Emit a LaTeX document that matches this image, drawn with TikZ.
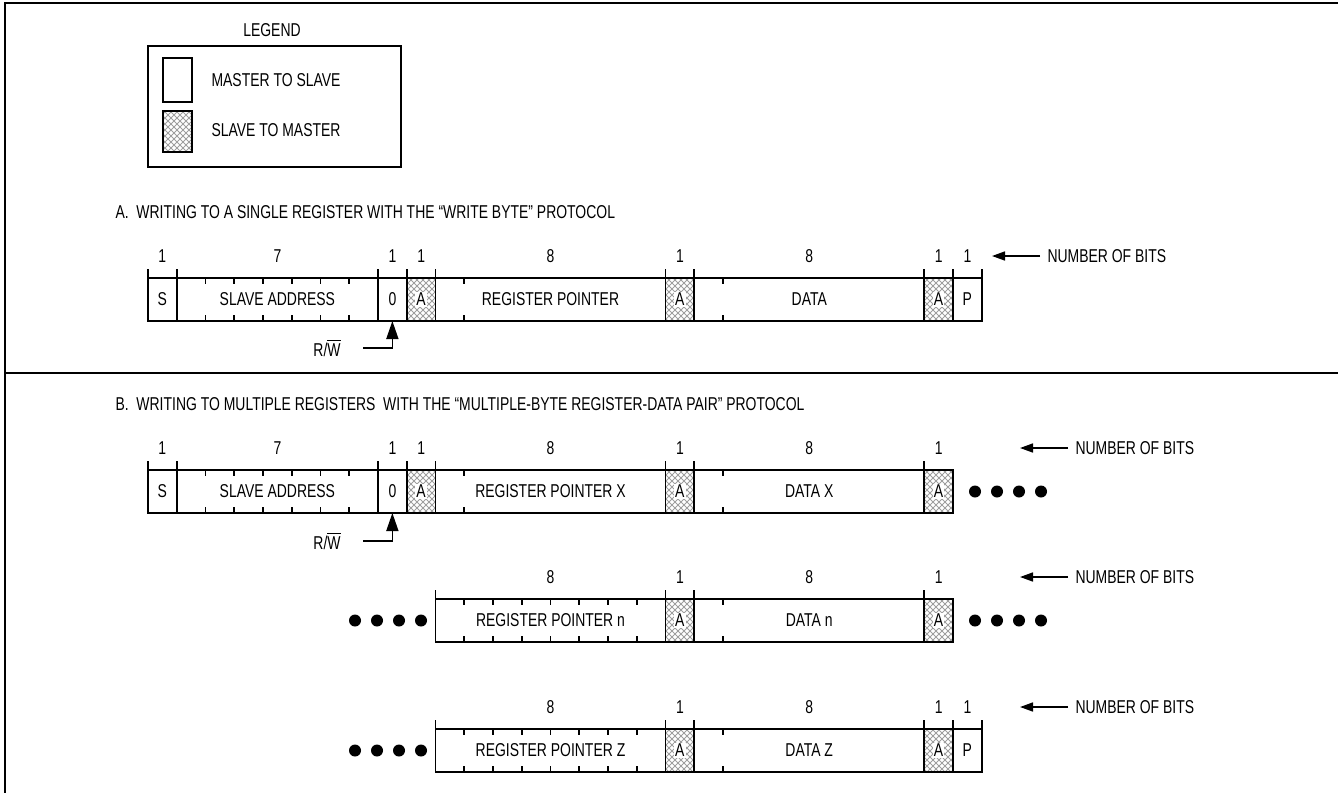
\documentclass[tikz,border=0pt]{standalone}
\usepackage{fontspec}
\setmainfont{Liberation Sans}[FakeStretch=0.75]
\usetikzlibrary{positioning,patterns,arrows.meta}

\begin{document}
\begin{tikzpicture}[x=0.5pt,y=-0.5pt,font=\fontsize{9.3}{11}\selectfont,line width=0.9pt,
  bitbox/.style={draw,minimum width=#1*14.375pt,minimum height=21.5pt,inner sep=0pt,outer sep=0pt},
  slave/.style={preaction={pattern=north east lines,pattern color=black!38},pattern=north west lines,pattern color=black!38},
  acktext/.style={fill=white,inner sep=0.6pt},
  bitnum/.style={inner sep=1pt},
  tick/.style={line width=0.8pt},
  bitsarrow/.style={-{Triangle[length=6.5pt,width=4.5pt]},line width=0.8pt},
  rwarrow/.style={-{Triangle[length=9pt,width=6pt]},line width=0.8pt},
  dot/.style={circle,fill=black,inner sep=0pt,minimum size=6pt}]
\useasboundingbox (0,0) rectangle (1338,793);
% frame
\draw (1338,3) -- (5,3) -- (5,793);
\draw (5,373) -- (1338,373);
% legend
\node (legend) at (272,30) {LEGEND};
\draw (148,46) rectangle (401,167);
\draw (163,58) rectangle (192,102);
\draw[slave] (163,111) rectangle (192,152);
\node[anchor=west] (msText) at (204,80) {MASTER TO SLAVE};
\node[anchor=west] (smText) at (204,130) {SLAVE TO MASTER};
% A: write byte
\node[anchor=west] (titleA) at (108,212) {A.\ \ WRITING TO A SINGLE REGISTER WITH THE “WRITE BYTE” PROTOCOL};
\node[bitbox=1,anchor=north west] (aS) at (148,278) {S};
\node[bitbox=7,right=0pt of aS] (aAddr) {SLAVE ADDRESS};
\node[bitbox=1,right=0pt of aAddr] (aRw) {0};
\node[bitbox=1,slave,right=0pt of aRw] (aAck1) {};
\node[acktext] (aAck1t) at (aAck1) {A};
\node[bitbox=8,right=0pt of aAck1] (aReg) {REGISTER POINTER};
\node[bitbox=1,slave,right=0pt of aReg] (aAck2) {};
\node[acktext] (aAck2t) at (aAck2) {A};
\node[bitbox=8,right=0pt of aAck2] (aData) {DATA};
\node[bitbox=1,slave,right=0pt of aData] (aAck3) {};
\node[acktext] (aAck3t) at (aAck3) {A};
\node[bitbox=1,right=0pt of aAck3] (aP) {P};
\foreach \k in {2,...,7,11,...,17,20,...,26}
  \draw[tick] (148+28.75*\k,278) -- ++(0,6) (148+28.75*\k,321) -- ++(0,-6);
\foreach \k in {0,1,8,9,10,18,19,27,28,29}
  \draw (148+28.75*\k,278) -- ++(0,-9);
\foreach \f/\n in {aS/1,aAddr/7,aRw/1,aAck1/1,aReg/8,aAck2/1,aData/8,aAck3/1,aP/1}
  \node[bitnum] (\f-n) at ([yshift=11pt]\f.north) {\n};
\node[anchor=west] (aBits) at (1040,256) {NUMBER OF BITS};
\coordinate (aBitsTip) at (992,256);
\draw[bitsarrow] (aBits.west) -- (aBitsTip);
\node (aRwText) at (327,348) {R/$\overline{\mbox{W}}$};
\coordinate (aRwStart) at (363,348);
\draw[rwarrow] (aRwStart) -| (aRw.south);
% B: register-data pairs
\node[anchor=west] (titleB) at (108,404) {B.\ \ WRITING TO MULTIPLE REGISTERS \ WITH THE “MULTIPLE-BYTE REGISTER-DATA PAIR” PROTOCOL};
\node[bitbox=1,anchor=north west] (bS) at (148,470) {S};
\node[bitbox=7,right=0pt of bS] (bAddr) {SLAVE ADDRESS};
\node[bitbox=1,right=0pt of bAddr] (bRw) {0};
\node[bitbox=1,slave,right=0pt of bRw] (bAck1) {};
\node[acktext] (bAck1t) at (bAck1) {A};
\node[bitbox=8,right=0pt of bAck1] (bReg) {REGISTER POINTER X};
\node[bitbox=1,slave,right=0pt of bReg] (bAck2) {};
\node[acktext] (bAck2t) at (bAck2) {A};
\node[bitbox=8,right=0pt of bAck2] (bData) {DATA X};
\node[bitbox=1,slave,right=0pt of bData] (bAck3) {};
\node[acktext] (bAck3t) at (bAck3) {A};
\foreach \k in {2,...,7,11,...,17,20,...,26}
  \draw[tick] (148+28.75*\k,470) -- ++(0,6) (148+28.75*\k,513) -- ++(0,-6);
\foreach \k in {0,1,8,9,10,18,19,27}
  \draw (148+28.75*\k,470) -- ++(0,-9);
\foreach \f/\n in {bS/1,bAddr/7,bRw/1,bAck1/1,bReg/8,bAck2/1,bData/8,bAck3/1}
  \node[bitnum] (\f-n) at ([yshift=11pt]\f.north) {\n};
\foreach \i in {0,...,3}
  \node[dot] (bDot\i) at (975+22*\i,491.5) {};
\node[anchor=west] (bBits) at (1068,448) {NUMBER OF BITS};
\coordinate (bBitsTip) at (1020,448);
\draw[bitsarrow] (bBits.west) -- (bBitsTip);
\node (bRwText) at (327,541) {R/$\overline{\mbox{W}}$};
\coordinate (bRwStart) at (363,541);
\draw[rwarrow] (bRwStart) -| (bRw.south);
% B: pair n
\node[bitbox=8,anchor=north west] (cReg) at (435.5,599) {REGISTER POINTER n};
\node[bitbox=1,slave,right=0pt of cReg] (cAck1) {};
\node[acktext] (cAck1t) at (cAck1) {A};
\node[bitbox=8,right=0pt of cAck1] (cData) {DATA n};
\node[bitbox=1,slave,right=0pt of cData] (cAck2) {};
\node[acktext] (cAck2t) at (cAck2) {A};
\foreach \k in {11,...,17,20,...,26}
  \draw[tick] (148+28.75*\k,599) -- ++(0,6) (148+28.75*\k,642) -- ++(0,-6);
\foreach \k in {10,18,19,27}
  \draw (148+28.75*\k,599) -- ++(0,-9);
\foreach \f/\n in {cReg/8,cAck1/1,cData/8,cAck2/1}
  \node[bitnum] (\f-n) at ([yshift=11pt]\f.north) {\n};
\foreach \i in {0,...,3} {
  \node[dot] (cDotL\i) at (355+22*\i,620.5) {};
  \node[dot] (cDotR\i) at (975+22*\i,620.5) {};
}
\node[anchor=west] (cBits) at (1068,577) {NUMBER OF BITS};
\coordinate (cBitsTip) at (1020,577);
\draw[bitsarrow] (cBits.west) -- (cBitsTip);
% B: last pair
\node[bitbox=8,anchor=north west] (dReg) at (435.5,729) {REGISTER POINTER Z};
\node[bitbox=1,slave,right=0pt of dReg] (dAck1) {};
\node[acktext] (dAck1t) at (dAck1) {A};
\node[bitbox=8,right=0pt of dAck1] (dData) {DATA Z};
\node[bitbox=1,slave,right=0pt of dData] (dAck2) {};
\node[acktext] (dAck2t) at (dAck2) {A};
\node[bitbox=1,right=0pt of dAck2] (dP) {P};
\foreach \k in {11,...,17,20,...,26}
  \draw[tick] (148+28.75*\k,729) -- ++(0,6) (148+28.75*\k,772) -- ++(0,-6);
\foreach \k in {10,18,19,27,28,29}
  \draw (148+28.75*\k,729) -- ++(0,-9);
\foreach \f/\n in {dReg/8,dAck1/1,dData/8,dAck2/1,dP/1}
  \node[bitnum] (\f-n) at ([yshift=11pt]\f.north) {\n};
\foreach \i in {0,...,3}
  \node[dot] (dDot\i) at (355+22*\i,750.5) {};
\node[anchor=west] (dBits) at (1068,707) {NUMBER OF BITS};
\coordinate (dBitsTip) at (1020,707);
\draw[bitsarrow] (dBits.west) -- (dBitsTip);
\end{tikzpicture}
\end{document}
